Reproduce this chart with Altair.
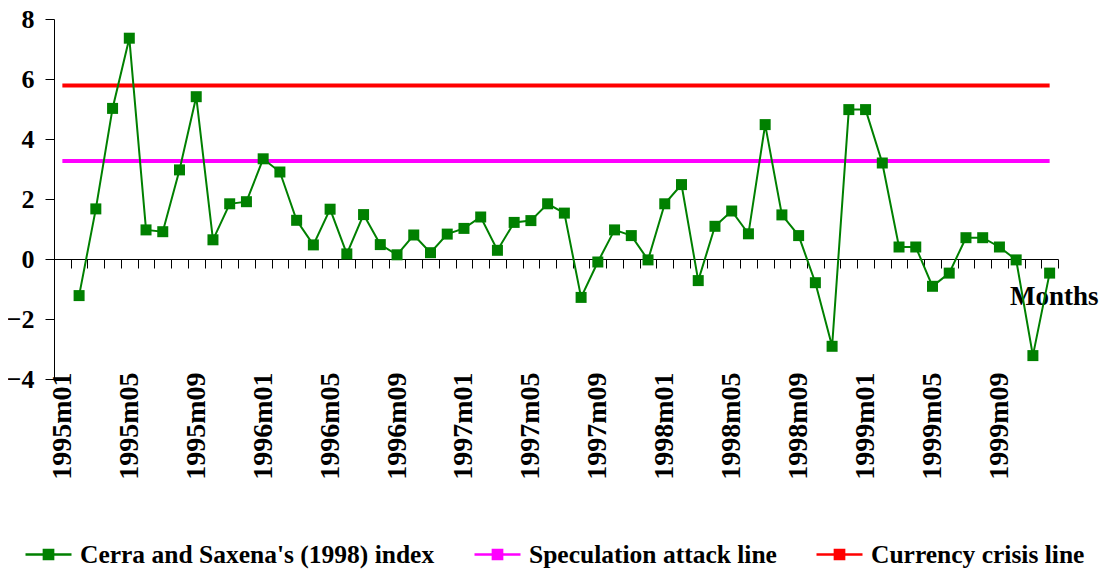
import json
import altair as alt
import pandas as pd

# ---- data -------------------------------------------------------------
years = ["1995", "1996", "1997", "1998", "1999"]
month_codes = ["01", "02", "03", "04", "05", "06", "07", "08", "09", "10", "11", "12"]
months = [y + "m" + m for y in years for m in month_codes]

# Cerra and Saxena's (1998) index, 1995m02 .. 1999m12
index_months = months[1:]
index_values = [
    -1.22, 1.67, 5.02, 7.36, 0.97, 0.91, 2.97, 5.41, 0.64, 1.84, 1.91,          # 1995
    3.34, 2.90, 1.29, 0.47, 1.66, 0.17, 1.48, 0.48, 0.14, 0.80, 0.21, 0.83,     # 1996
    1.02, 1.40, 0.29, 1.22, 1.28, 1.84, 1.53, -1.28, -0.10, 0.97, 0.78, -0.03,  # 1997
    1.84, 2.48, -0.72, 1.09, 1.60, 0.84, 4.48, 1.47, 0.78, -0.79, -2.91, 4.98,  # 1998
    4.98, 3.20, 0.40, 0.40, -0.91, -0.47, 0.71, 0.71, 0.40, -0.03, -3.22, -0.47,  # 1999
]
speculation_level = 3.27
crisis_level = 5.78

series_names = [
    "Cerra and Saxena's (1998) index",
    "Speculation attack line",
    "Currency crisis line",
]
series_colors = ["#008000", "#FF00FF", "#FF0000"]
y_ticks = [-4, -2, 0, 2, 4, 6, 8]

rows = []
for m, v in zip(index_months, index_values):
    rows.append({"series": series_names[0], "idx": months.index(m), "month": m, "value": v})
for m in months:
    rows.append({"series": series_names[1], "idx": months.index(m), "month": m, "value": speculation_level})
    rows.append({"series": series_names[2], "idx": months.index(m), "month": m, "value": crisis_level})
df = pd.DataFrame(rows)

# ---- styling ----------------------------------------------------------
FONT = "Liberation Serif"
n = len(months)
tick_values = [k - 0.5 for k in range(n + 1)]
label_expr = (
    f"((datum.value + 0.5) % 4 == 0 && (datum.value + 0.5) < {n}) ? "
    f"{json.dumps(months)}[datum.value + 0.5] : ''"
)

x_enc = alt.X(
    "idx:Q",
    scale=alt.Scale(domain=[-0.5, n - 0.5], nice=False, zero=False),
    axis=alt.Axis(
        values=tick_values, offset=-120, tickSize=9, tickColor="black",
        domainColor="black", domainWidth=1, tickWidth=1, grid=False,
        labelExpr=label_expr, labelAngle=-90, labelAlign="right",
        labelBaseline="middle", labelPadding=104, labelOffset=8.37,
        labelFont=FONT, labelFontSize=28, labelFontWeight="bold",
        labelColor="black", labelOverlap=False, labelFlush=False,
        labelBound=False,
        title="Months", titleX=1044, titleY=45, titleAlign="right",
        titleBaseline="alphabetic", titleAngle=0, titleFont=FONT,
        titleFontSize=27, titleFontWeight="bold", titleColor="black",
    ),
)
y_enc = alt.Y(
    "value:Q",
    scale=alt.Scale(domain=[-4, 8], nice=False, zero=False),
    axis=alt.Axis(
        values=y_ticks, tickSize=9, tickColor="black", domainColor="black",
        grid=False, title=None, labelPadding=11, labelFont=FONT,
        labelFontSize=26, labelFontWeight="bold", labelColor="black",
        labelFlush=False,
    ),
)
legend_symbol = "M-1,0H1M-0.2,-0.2H0.2V0.2H-0.2Z"
color_enc = alt.Color(
    "series:N",
    scale=alt.Scale(domain=series_names, range=series_colors),
    legend=alt.Legend(
        title=None, orient="none", legendX=-30, legendY=511,
        direction="horizontal", labelFont=FONT, labelFontSize=25.5,
        labelFontWeight="bold", labelColor="black", labelLimit=0,
        columnPadding=34, labelOffset=7, symbolSize=2116,
        symbolStrokeWidth=2.5, symbolType=legend_symbol,
    ),
)

base = alt.Chart(df)
thresholds = base.transform_filter(
    alt.datum.series != series_names[0]
).mark_line(strokeWidth=4).encode(x=x_enc, y=y_enc, color=color_enc)

index_line = base.transform_filter(
    alt.datum.series == series_names[0]
).mark_line(strokeWidth=2).encode(x=x_enc, y=y_enc, color=color_enc)

index_pts = base.transform_filter(
    alt.datum.series == series_names[0]
).mark_point(shape="square", filled=True, size=121, opacity=1).encode(
    x=x_enc, y=y_enc, color=color_enc
)

chart = (
    alt.layer(thresholds, index_line, index_pts)
    .properties(
        width=1004, height=360,
        autosize=alt.AutoSizeParams(type="none"),
        padding={"left": 46, "top": 11, "right": 41, "bottom": 190},
        background="white",
    )
    .configure_view(stroke=None)
)

chart.save("out.html", embed_options={"renderer": "svg", "actions": False})
